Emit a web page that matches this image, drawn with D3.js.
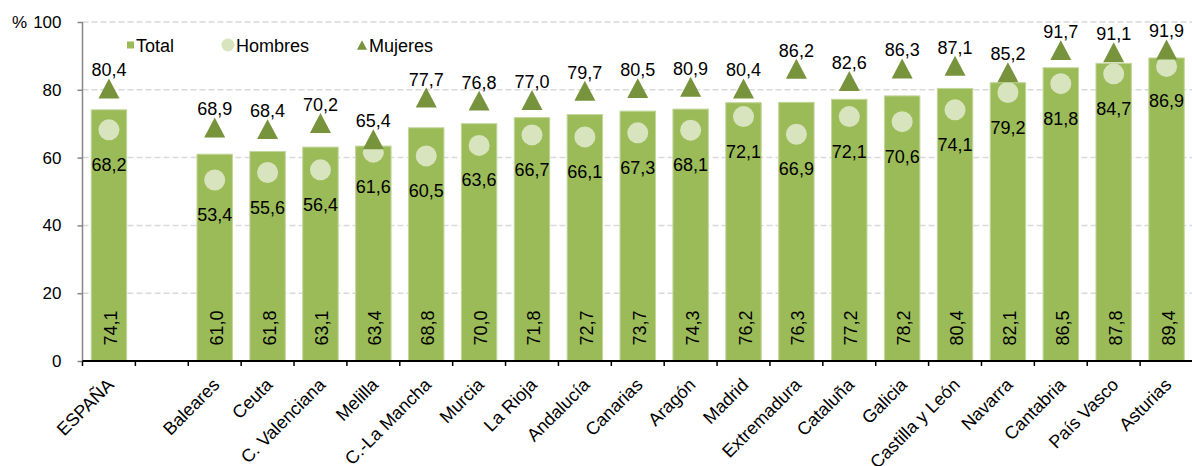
<!DOCTYPE html>
<html>
<head>
<meta charset="utf-8">
<script src="https://cdn.jsdelivr.net/npm/d3@7"></script>
<style>
  html, body { margin: 0; padding: 0; background: #fff; }
  svg { display: block; font-family: "Liberation Sans", Arial, sans-serif; }
</style>
</head>
<body>
<svg id="chart" width="1192" height="466"></svg>
<script>
// Categories (empty slot separates the national figure from the regions)
const categories = ["ESPAÑA", "", "Baleares", "Ceuta", "C. Valenciana", "Melilla", "C.-La Mancha",
  "Murcia", "La Rioja", "Andalucía", "Canarias", "Aragón", "Madrid", "Extremadura", "Cataluña",
  "Galicia", "Castilla y León", "Navarra", "Cantabria", "País Vasco", "Asturias"];

const total   = [74.1, null, 61.0, 61.8, 63.1, 63.4, 68.8, 70.0, 71.8, 72.7, 73.7, 74.3, 76.2, 76.3, 77.2, 78.2, 80.4, 82.1, 86.5, 87.8, 89.4];
const hombres = [68.2, null, 53.4, 55.6, 56.4, 61.6, 60.5, 63.6, 66.7, 66.1, 67.3, 68.1, 72.1, 66.9, 72.1, 70.6, 74.1, 79.2, 81.8, 84.7, 86.9];
const mujeres = [80.4, null, 68.9, 68.4, 70.2, 65.4, 77.7, 76.8, 77.0, 79.7, 80.5, 80.9, 80.4, 86.2, 82.6, 86.3, 87.1, 85.2, 91.7, 91.1, 91.9];

const yTicks = [0, 20, 40, 60, 80, 100];
const legendLabels = ["Total", "Hombres", "Mujeres"];

const colTotal = "#9BBB59", colHombres = "#D7E4BD", colMujeres = "#77933C";
const FS = 18;

const svg = d3.select("#chart");
const plotLeft = 82.5, plotRight = 1193, plotTop = 22, plotBottom = 361;

const x = d3.scaleBand().domain(d3.range(categories.length)).range([plotLeft, plotRight]).paddingInner(0.33).paddingOuter(0.165);
const xSlot = d3.scaleBand().domain(d3.range(categories.length)).range([plotLeft, plotRight]);
const y = d3.scaleLinear().domain([0, 100]).range([plotBottom, plotTop]);

const fmt = v => d3.format(".1f")(v).replace(".", ",");
const cx = i => xSlot(i) + xSlot.bandwidth() / 2;

// Triangle marker centred on its bounding box; size = side length
const triangleType = {
  draw(ctx, size) {
    const w = size, h = size * 0.95;
    ctx.moveTo(0, -h / 2);
    ctx.lineTo(w / 2, h / 2);
    ctx.lineTo(-w / 2, h / 2);
    ctx.closePath();
  }
};

// Horizontal gridlines
svg.append("g").selectAll("line").data(yTicks.filter(d => d > 0)).join("line")
  .attr("x1", plotLeft).attr("x2", plotRight)
  .attr("y1", d => y(d)).attr("y2", d => y(d))
  .attr("stroke", "#D9D9D9").attr("stroke-width", 1.5).attr("stroke-dasharray", "6,3");

// Y axis
const yAxis = svg.append("g").attr("transform", `translate(${plotLeft},0)`)
  .call(d3.axisLeft(y).tickValues(yTicks).tickSize(5).tickPadding(16));
yAxis.select(".domain").attr("stroke", "#868686").attr("stroke-width", 1.5).attr("d", `M0,${plotTop}V${plotBottom}`);
yAxis.selectAll(".tick line").attr("stroke", "#868686").attr("stroke-width", 1.5);
yAxis.selectAll(".tick text").attr("font-size", 17).attr("fill", "#000").attr("font-family", "Liberation Sans, Arial, sans-serif");
svg.append("text").attr("x", 12).attr("y", y(100) + 6).attr("font-size", 17).text("%");

// Bars (Total)
const idx = d3.range(categories.length);
svg.append("g").selectAll("rect").data(idx.filter(i => total[i] != null)).join("rect")
  .attr("x", i => x(i)).attr("width", x.bandwidth())
  .attr("y", i => y(total[i])).attr("height", i => y(0) - y(total[i]))
  .attr("fill", colTotal).attr("stroke", "#C3D69B").attr("stroke-width", 1);

// X axis
const xAxisG = svg.append("g");
xAxisG.append("line").attr("x1", plotLeft).attr("x2", plotRight).attr("y1", plotBottom).attr("y2", plotBottom)
  .attr("stroke", "#000").attr("stroke-width", 2);
xAxisG.selectAll("line.tk").data(d3.range(categories.length + 1)).join("line").attr("class", "tk")
  .attr("x1", i => plotLeft + i * xSlot.step()).attr("x2", i => plotLeft + i * xSlot.step())
  .attr("y1", plotBottom).attr("y2", plotBottom + 5).attr("stroke", "#000").attr("stroke-width", 1.5);
xAxisG.selectAll("text").data(idx).join("text")
  .attr("transform", i => `translate(${cx(i) + 6},${plotBottom + 25}) rotate(-45)`)
  .attr("text-anchor", "end").attr("font-size", FS).text(i => categories[i]);

// Hombres circles
svg.append("g").selectAll("circle").data(idx.filter(i => hombres[i] != null)).join("circle")
  .attr("cx", cx).attr("cy", i => y(hombres[i])).attr("r", 10.5).attr("fill", colHombres);

// Mujeres triangles
const tri = d3.symbol().type(triangleType).size(21);
svg.append("g").selectAll("path").data(idx.filter(i => mujeres[i] != null)).join("path")
  .attr("d", tri).attr("transform", i => `translate(${cx(i)},${y(mujeres[i])})`)
  .attr("fill", colMujeres);

// Value labels
const labels = svg.append("g").attr("font-size", FS).attr("fill", "#000");
labels.selectAll("text.tot").data(idx.filter(i => total[i] != null)).join("text").attr("class", "tot")
  .attr("transform", i => `translate(${cx(i) + 8},328) rotate(-90)`)
  .attr("text-anchor", "middle").text(i => fmt(total[i]));
labels.selectAll("text.hom").data(idx.filter(i => hombres[i] != null)).join("text").attr("class", "hom")
  .attr("x", cx).attr("y", i => y(hombres[i]) + 41)
  .attr("text-anchor", "middle").text(i => fmt(hombres[i]));
labels.selectAll("text.muj").data(idx.filter(i => mujeres[i] != null)).join("text").attr("class", "muj")
  .attr("x", cx).attr("y", i => y(mujeres[i]) - 12)
  .attr("text-anchor", "middle").text(i => fmt(mujeres[i]));

// Legend
const lg = svg.append("g").attr("font-size", FS);
lg.append("rect").attr("x", 127).attr("y", 41.5).attr("width", 7).attr("height", 7).attr("fill", colTotal);
lg.append("text").attr("x", 136).attr("y", 51.5).text(legendLabels[0]);
lg.append("circle").attr("cx", 228).attr("cy", 45).attr("r", 6.5).attr("fill", colHombres);
lg.append("text").attr("x", 236).attr("y", 51.5).text(legendLabels[1]);
lg.append("path").attr("d", d3.symbol().type(triangleType).size(10)).attr("transform", "translate(362,45)").attr("fill", colMujeres);
lg.append("text").attr("x", 369).attr("y", 51.5).text(legendLabels[2]);
</script>
</body>
</html>
